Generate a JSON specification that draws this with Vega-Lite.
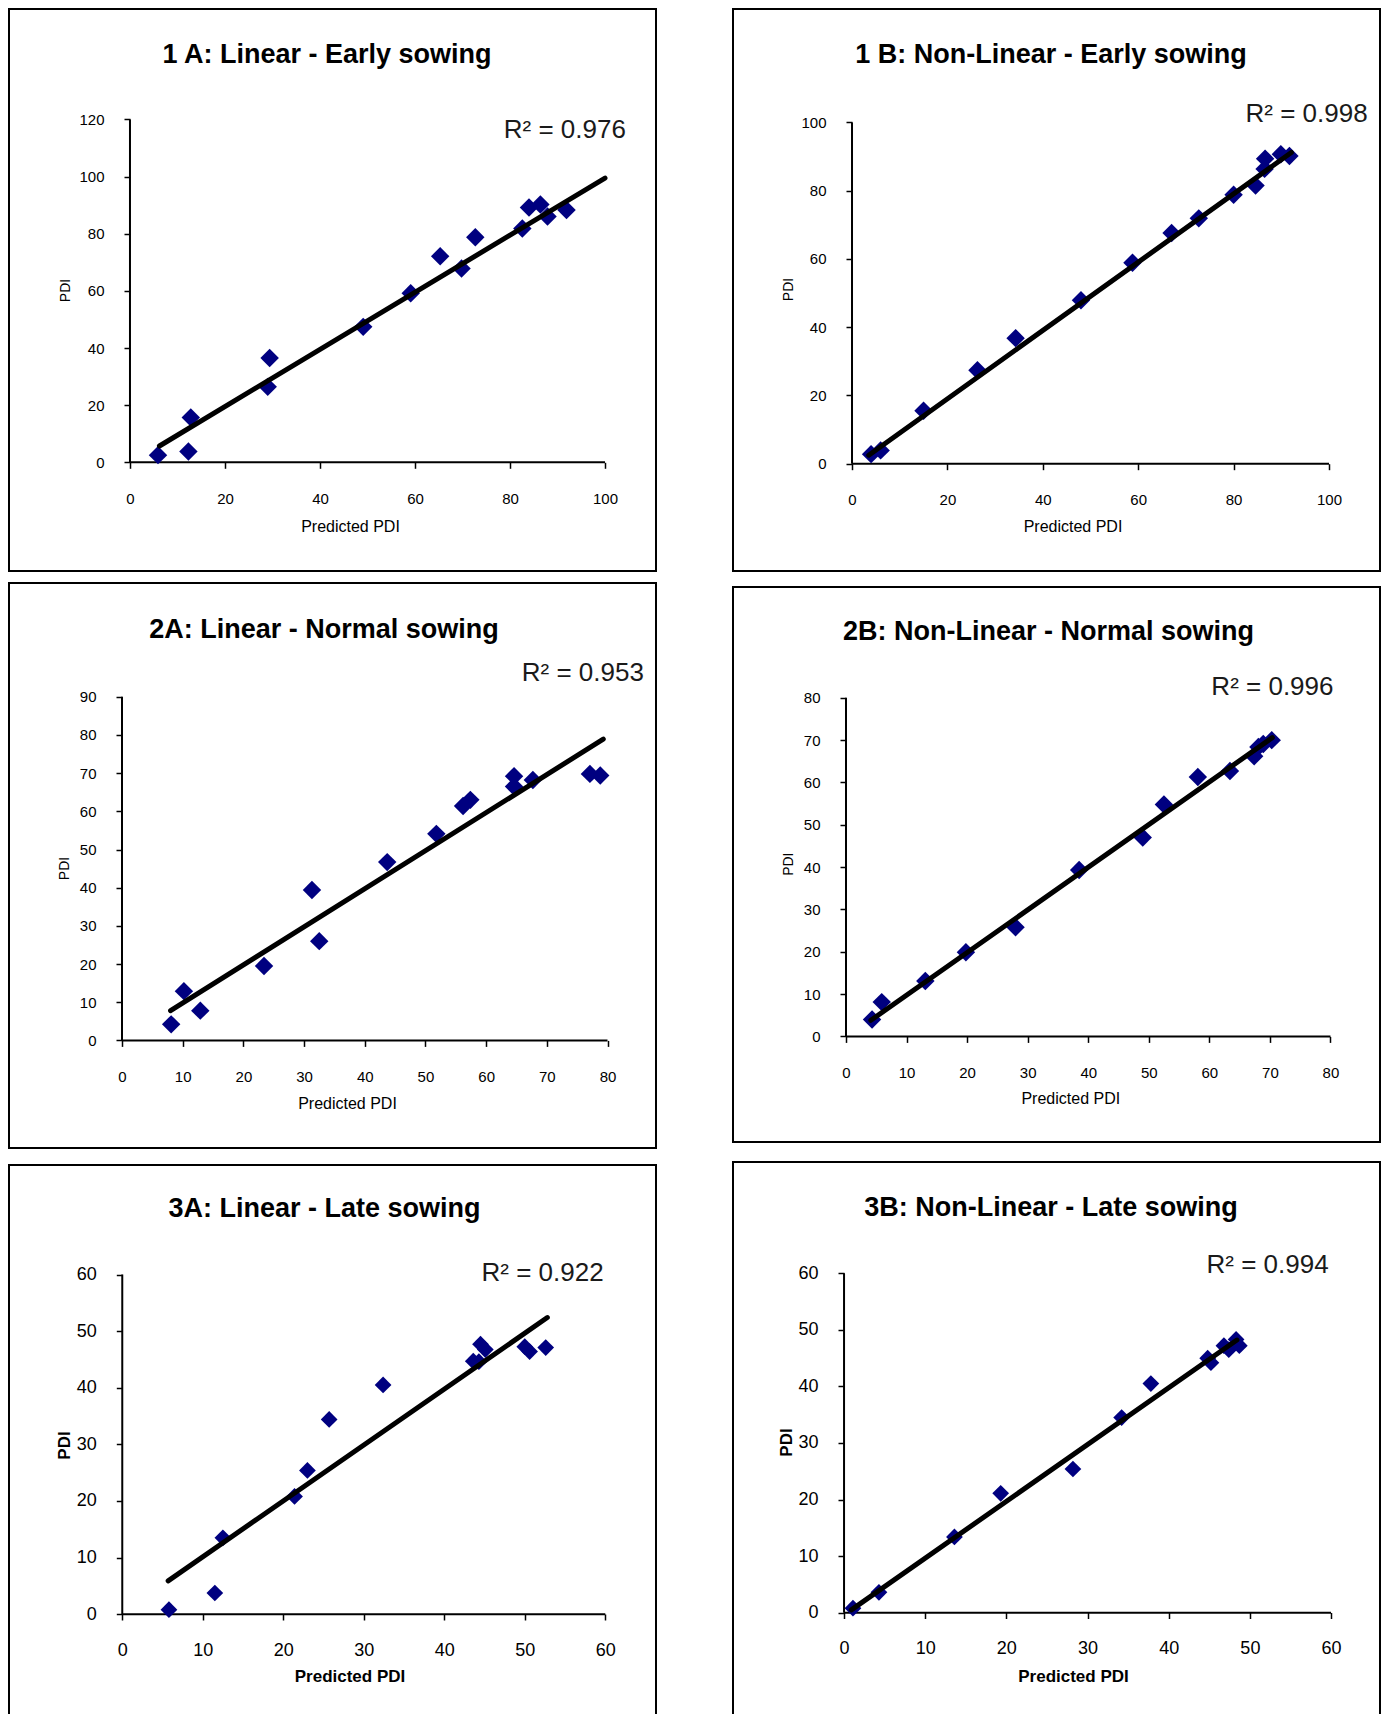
{
  "$schema": "https://vega.github.io/schema/vega-lite/v6.json",
  "background": "white",
  "padding": {"left": 8, "top": 8, "right": 0, "bottom": 0},
  "datasets": {
    "p1a": [{"predicted":5.9,"pdi":2.5},{"predicted":12.3,"pdi":3.8},{"predicted":12.8,"pdi":15.7},{"predicted":29.4,"pdi":36.5},{"predicted":29.0,"pdi":26.4},{"predicted":49.1,"pdi":47.4},{"predicted":59.1,"pdi":59.2},{"predicted":65.3,"pdi":72.1},{"predicted":69.8,"pdi":67.8},{"predicted":72.7,"pdi":78.8},{"predicted":82.6,"pdi":81.8},{"predicted":84.0,"pdi":89.2},{"predicted":86.4,"pdi":90.2},{"predicted":87.9,"pdi":86.0},{"predicted":91.9,"pdi":88.3}],
    "f1a": [{"predicted":6.2,"pdi":5.7},{"predicted":100,"pdi":99.5}],
    "p1b": [{"predicted":4.0,"pdi":2.8},{"predicted":6.0,"pdi":3.9},{"predicted":15.0,"pdi":15.5},{"predicted":26.3,"pdi":27.4},{"predicted":34.3,"pdi":36.8},{"predicted":48.0,"pdi":47.9},{"predicted":58.8,"pdi":58.9},{"predicted":67.0,"pdi":67.6},{"predicted":72.7,"pdi":71.9},{"predicted":80.0,"pdi":78.8},{"predicted":84.6,"pdi":81.5},{"predicted":86.6,"pdi":89.4},{"predicted":86.5,"pdi":86.4},{"predicted":89.9,"pdi":90.7},{"predicted":91.7,"pdi":90.2}],
    "f1b": [{"predicted":3.5,"pdi":2.5},{"predicted":92.1,"pdi":91.2}],
    "p2a": [{"predicted":8.1,"pdi":4.2},{"predicted":10.2,"pdi":12.9},{"predicted":12.9,"pdi":7.8},{"predicted":23.4,"pdi":19.5},{"predicted":31.3,"pdi":39.4},{"predicted":32.5,"pdi":26.0},{"predicted":43.7,"pdi":46.7},{"predicted":51.8,"pdi":54.1},{"predicted":56.2,"pdi":61.4},{"predicted":57.4,"pdi":63.0},{"predicted":64.6,"pdi":69.2},{"predicted":64.6,"pdi":66.5},{"predicted":67.7,"pdi":68.2},{"predicted":77.1,"pdi":69.8},{"predicted":78.8,"pdi":69.4}],
    "f2a": [{"predicted":8.0,"pdi":7.8},{"predicted":79.3,"pdi":78.9}],
    "p2b": [{"predicted":4.3,"pdi":4.0},{"predicted":5.9,"pdi":8.1},{"predicted":13.1,"pdi":13.1},{"predicted":19.8,"pdi":19.9},{"predicted":28.0,"pdi":25.8},{"predicted":38.5,"pdi":39.3},{"predicted":49.0,"pdi":47.0},{"predicted":52.5,"pdi":54.8},{"predicted":58.1,"pdi":61.3},{"predicted":63.4,"pdi":62.7},{"predicted":67.4,"pdi":66.2},{"predicted":68.1,"pdi":68.4},{"predicted":68.9,"pdi":69.1},{"predicted":70.3,"pdi":70.0}],
    "f2b": [{"predicted":4.1,"pdi":3.8},{"predicted":70.4,"pdi":70.6}],
    "p3a": [{"predicted":5.8,"pdi":0.8},{"predicted":11.5,"pdi":3.75},{"predicted":12.5,"pdi":13.5},{"predicted":21.4,"pdi":20.8},{"predicted":23.0,"pdi":25.4},{"predicted":25.7,"pdi":34.4},{"predicted":32.4,"pdi":40.5},{"predicted":43.6,"pdi":44.7},{"predicted":44.3,"pdi":44.6},{"predicted":44.5,"pdi":47.7},{"predicted":45.1,"pdi":46.75},{"predicted":50.0,"pdi":47.25},{"predicted":50.6,"pdi":46.4},{"predicted":52.6,"pdi":47.1}],
    "f3a": [{"predicted":5.7,"pdi":5.9},{"predicted":52.8,"pdi":52.4}],
    "p3b": [{"predicted":1.1,"pdi":0.8},{"predicted":4.3,"pdi":3.6},{"predicted":13.6,"pdi":13.4},{"predicted":19.3,"pdi":21.1},{"predicted":28.2,"pdi":25.4},{"predicted":34.2,"pdi":34.5},{"predicted":37.8,"pdi":40.5},{"predicted":44.8,"pdi":45.0},{"predicted":45.2,"pdi":44.2},{"predicted":46.8,"pdi":47.2},{"predicted":47.4,"pdi":46.5},{"predicted":48.3,"pdi":48.3},{"predicted":48.7,"pdi":47.2}],
    "f3b": [{"predicted":0.9,"pdi":0.5},{"predicted":48.4,"pdi":48.2}]
  },
  "hconcat": [
    {
      "spacing": 10,
      "vconcat": [
        {
          "width": 647, "height": 562,
          "title": {"text": "1 A: Linear - Early sowing", "offset": -59.5, "dx": -5.5},
          "layer": [
            {"data": {"values": [{}]}, "mark": {"type": "rule", "color": "black", "strokeWidth": 2}, "encoding": {"x": {"datum": 0}, "x2": {"datum": 100}, "y": {"datum": 0}}},
            {"data": {"values": [{}]}, "mark": {"type": "rule", "color": "black", "strokeWidth": 2}, "encoding": {"x": {"datum": 0}, "y": {"datum": 0}, "y2": {"datum": 120}}},
            {"data": {"name": "p1a"}, "mark": {"type": "point", "shape": "diamond", "filled": true, "color": "#000080", "size": 340, "opacity": 1},
              "encoding": {
                "x": {"field": "predicted", "type": "quantitative", "scale": {"domain": [-25.47, 110.74], "nice": false, "zero": false},
                  "axis": {"title": "Predicted PDI", "values": [0,20,40,60,80,100], "offset": -108.7, "titleX": 341, "titleY": 63.7}},
                "y": {"field": "pdi", "type": "quantitative", "scale": {"domain": [-38.05, 158.66], "nice": false, "zero": false},
                  "axis": {"title": "PDI", "values": [0,20,40,60,80,100,120], "offset": -121, "titleX": -64.4, "titleY": 281, "titleFontSize": 14}}
              }},
            {"data": {"name": "f1a"}, "mark": {"type": "line", "color": "black", "strokeWidth": 5, "strokeCap": "round"},
              "encoding": {"x": {"field": "predicted", "type": "quantitative"}, "y": {"field": "pdi", "type": "quantitative"}}},
            {"data": {"values": [{"label": "R² = 0.976"}]}, "mark": {"type": "text", "align": "right", "baseline": "middle", "fontSize": 26, "font": "Liberation Sans", "color": "#1a1a1a"},
              "encoding": {"x": {"datum": 104.4}, "y": {"datum": 116.3}, "text": {"field": "label"}}}
          ]
        },
        {
          "spacing": 15,
          "vconcat": [
            {
              "width": 647, "height": 565,
              "title": {"text": "2A: Linear - Normal sowing", "offset": -60.9, "dx": -8.5},
              "layer": [
                {"data": {"values": [{}]}, "mark": {"type": "rule", "color": "black", "strokeWidth": 2}, "encoding": {"x": {"datum": 0}, "x2": {"datum": 80}, "y": {"datum": 0}}},
                {"data": {"values": [{}]}, "mark": {"type": "rule", "color": "black", "strokeWidth": 2}, "encoding": {"x": {"datum": 0}, "y": {"datum": 0}, "y2": {"datum": 90}}},
                {"data": {"name": "p2a"}, "mark": {"type": "point", "shape": "diamond", "filled": true, "color": "#000080", "size": 340, "opacity": 1},
                  "encoding": {
                    "x": {"field": "predicted", "type": "quantitative", "scale": {"domain": [-18.62, 87.99], "nice": false, "zero": false},
                      "axis": {"title": "Predicted PDI", "values": [0,10,20,30,40,50,60,70,80], "offset": -107.6, "titleX": 338, "titleY": 62.6}},
                    "y": {"field": "pdi", "type": "quantitative", "scale": {"domain": [-28.18, 119.8], "nice": false, "zero": false},
                      "axis": {"title": "PDI", "values": [0,10,20,30,40,50,60,70,80,90], "offset": -113, "titleX": -57.5, "titleY": 285, "titleFontSize": 14}}
                  }},
                {"data": {"name": "f2a"}, "mark": {"type": "line", "color": "black", "strokeWidth": 5, "strokeCap": "round"},
                  "encoding": {"x": {"field": "predicted", "type": "quantitative"}, "y": {"field": "pdi", "type": "quantitative"}}},
                {"data": {"values": [{"label": "R² = 0.953"}]}, "mark": {"type": "text", "align": "right", "baseline": "middle", "fontSize": 26, "font": "Liberation Sans", "color": "#1a1a1a"},
                  "encoding": {"x": {"datum": 86.0}, "y": {"datum": 96.1}, "text": {"field": "label"}}}
              ]
            },
            {
              "width": 647, "height": 558,
              "title": {"text": "3A: Linear - Late sowing", "offset": -58.2, "dx": -8},
              "layer": [
                {"data": {"values": [{}]}, "mark": {"type": "rule", "color": "black", "strokeWidth": 2}, "encoding": {"x": {"datum": 0}, "x2": {"datum": 60}, "y": {"datum": 0}}},
                {"data": {"values": [{}]}, "mark": {"type": "rule", "color": "black", "strokeWidth": 2}, "encoding": {"x": {"datum": 0}, "y": {"datum": 0}, "y2": {"datum": 60}}},
                {"data": {"name": "p3a"}, "mark": {"type": "point", "shape": "diamond", "filled": true, "color": "#000080", "size": 280, "opacity": 1},
                  "encoding": {
                    "x": {"field": "predicted", "type": "quantitative", "scale": {"domain": [-14.07, 66.3], "nice": false, "zero": false},
                      "axis": {"title": "Predicted PDI", "values": [0,10,20,30,40,50,60], "offset": -109, "titleX": 340.5, "titleY": 62, "labelFontSize": 18, "titleFontSize": 17, "titleFontWeight": "bold"}},
                    "y": {"field": "pdi", "type": "quantitative", "scale": {"domain": [-19.21, 79.34], "nice": false, "zero": false},
                      "axis": {"title": "PDI", "values": [0,10,20,30,40,50,60], "offset": -113.3, "titleX": -57.8, "titleY": 280, "labelFontSize": 18, "titleFontSize": 17, "titleFontWeight": "bold"}}
                  }},
                {"data": {"name": "f3a"}, "mark": {"type": "line", "color": "black", "strokeWidth": 5, "strokeCap": "round"},
                  "encoding": {"x": {"field": "predicted", "type": "quantitative"}, "y": {"field": "pdi", "type": "quantitative"}}},
                {"data": {"values": [{"label": "R² = 0.922"}]}, "mark": {"type": "text", "align": "right", "baseline": "middle", "fontSize": 26, "font": "Liberation Sans", "color": "#1a1a1a"},
                  "encoding": {"x": {"datum": 59.8}, "y": {"datum": 60.2}, "text": {"field": "label"}}}
              ]
            }
          ]
        }
      ]
    },
    {
      "spacing": 14,
      "vconcat": [
        {
          "width": 647, "height": 562,
          "title": {"text": "1 B: Non-Linear - Early sowing", "offset": -59.6, "dx": -5.5},
          "layer": [
            {"data": {"values": [{}]}, "mark": {"type": "rule", "color": "black", "strokeWidth": 2}, "encoding": {"x": {"datum": 0}, "x2": {"datum": 100}, "y": {"datum": 0}}},
            {"data": {"values": [{}]}, "mark": {"type": "rule", "color": "black", "strokeWidth": 2}, "encoding": {"x": {"datum": 0}, "y": {"datum": 0}, "y2": {"datum": 100}}},
            {"data": {"name": "p1b"}, "mark": {"type": "point", "shape": "diamond", "filled": true, "color": "#000080", "size": 340, "opacity": 1},
              "encoding": {
                "x": {"field": "predicted", "type": "quantitative", "scale": {"domain": [-24.95, 110.69], "nice": false, "zero": false},
                  "axis": {"title": "Predicted PDI", "values": [0,20,40,60,80,100], "offset": -107.3, "titleX": 339.5, "titleY": 62.3}},
                "y": {"field": "pdi", "type": "quantitative", "scale": {"domain": [-31.45, 133.26], "nice": false, "zero": false},
                  "axis": {"title": "PDI", "values": [0,20,40,60,80,100], "offset": -119, "titleX": -64, "titleY": 280, "titleFontSize": 14}}
              }},
            {"data": {"name": "f1b"}, "mark": {"type": "line", "color": "black", "strokeWidth": 5, "strokeCap": "round"},
              "encoding": {"x": {"field": "predicted", "type": "quantitative"}, "y": {"field": "pdi", "type": "quantitative"}}},
            {"data": {"values": [{"label": "R² = 0.998"}]}, "mark": {"type": "text", "align": "right", "baseline": "middle", "fontSize": 26, "font": "Liberation Sans", "color": "#1a1a1a"},
              "encoding": {"x": {"datum": 108.1}, "y": {"datum": 102.5}, "text": {"field": "label"}}}
          ]
        },
        {
          "spacing": 18,
          "vconcat": [
            {
              "width": 647, "height": 555,
              "title": {"text": "2B: Non-Linear - Normal sowing", "offset": -59.1, "dx": -8},
              "layer": [
                {"data": {"values": [{}]}, "mark": {"type": "rule", "color": "black", "strokeWidth": 2}, "encoding": {"x": {"datum": 0}, "x2": {"datum": 80}, "y": {"datum": 0}}},
                {"data": {"values": [{}]}, "mark": {"type": "rule", "color": "black", "strokeWidth": 2}, "encoding": {"x": {"datum": 0}, "y": {"datum": 0}, "y2": {"datum": 80}}},
                {"data": {"name": "p2b"}, "mark": {"type": "point", "shape": "diamond", "filled": true, "color": "#000080", "size": 340, "opacity": 1},
                  "encoding": {
                    "x": {"field": "predicted", "type": "quantitative", "scale": {"domain": [-18.66, 88.18], "nice": false, "zero": false},
                      "axis": {"title": "Predicted PDI", "values": [0,10,20,30,40,50,60,70,80], "offset": -105.6, "titleX": 337.3, "titleY": 62.4}},
                    "y": {"field": "pdi", "type": "quantitative", "scale": {"domain": [-24.95, 106.18], "nice": false, "zero": false},
                      "axis": {"title": "PDI", "values": [0,10,20,30,40,50,60,70,80], "offset": -113, "titleX": -58, "titleY": 276.7, "titleFontSize": 14}}
                  }},
                {"data": {"name": "f2b"}, "mark": {"type": "line", "color": "black", "strokeWidth": 5, "strokeCap": "round"},
                  "encoding": {"x": {"field": "predicted", "type": "quantitative"}, "y": {"field": "pdi", "type": "quantitative"}}},
                {"data": {"values": [{"label": "R² = 0.996"}]}, "mark": {"type": "text", "align": "right", "baseline": "middle", "fontSize": 26, "font": "Liberation Sans", "color": "#1a1a1a"},
                  "encoding": {"x": {"datum": 80.5}, "y": {"datum": 82.6}, "text": {"field": "label"}}}
              ]
            },
            {
              "width": 647, "height": 561,
              "title": {"text": "3B: Non-Linear - Late sowing", "offset": -60.1, "dx": -5.5},
              "layer": [
                {"data": {"values": [{}]}, "mark": {"type": "rule", "color": "black", "strokeWidth": 2}, "encoding": {"x": {"datum": 0}, "x2": {"datum": 60}, "y": {"datum": 0}}},
                {"data": {"values": [{}]}, "mark": {"type": "rule", "color": "black", "strokeWidth": 2}, "encoding": {"x": {"datum": 0}, "y": {"datum": 0}, "y2": {"datum": 60}}},
                {"data": {"name": "p3b"}, "mark": {"type": "point", "shape": "diamond", "filled": true, "color": "#000080", "size": 280, "opacity": 1},
                  "encoding": {
                    "x": {"field": "predicted", "type": "quantitative", "scale": {"domain": [-13.68, 66.03], "nice": false, "zero": false},
                      "axis": {"title": "Predicted PDI", "values": [0,10,20,30,40,50,60], "offset": -110.5, "titleX": 340, "titleY": 63.5, "labelFontSize": 18, "titleFontSize": 17, "titleFontWeight": "bold"}},
                    "y": {"field": "pdi", "type": "quantitative", "scale": {"domain": [-19.5, 79.67], "nice": false, "zero": false},
                      "axis": {"title": "PDI", "values": [0,10,20,30,40,50,60], "offset": -111, "titleX": -58, "titleY": 280, "labelFontSize": 18, "titleFontSize": 17, "titleFontWeight": "bold"}}
                  }},
                {"data": {"name": "f3b"}, "mark": {"type": "line", "color": "black", "strokeWidth": 5, "strokeCap": "round"},
                  "encoding": {"x": {"field": "predicted", "type": "quantitative"}, "y": {"field": "pdi", "type": "quantitative"}}},
                {"data": {"values": [{"label": "R² = 0.994"}]}, "mark": {"type": "text", "align": "right", "baseline": "middle", "fontSize": 26, "font": "Liberation Sans", "color": "#1a1a1a"},
                  "encoding": {"x": {"datum": 59.7}, "y": {"datum": 61.4}, "text": {"field": "label"}}}
              ]
            }
          ]
        }
      ]
    }
  ],
  "spacing": 75,
  "config": {
    "view": {"stroke": "black", "strokeWidth": 2},
    "font": "Liberation Sans",
    "title": {"fontSize": 27, "font": "Liberation Sans", "fontWeight": "bold", "color": "black", "baseline": "middle", "anchor": "middle"},
    "axis": {"domain": false, "grid": false, "ticks": true, "tickSize": 6, "tickColor": "black", "tickWidth": 1.5, "labelFont": "Liberation Sans", "labelFontSize": 15, "labelColor": "black", "titleFont": "Liberation Sans", "titleFontSize": 16, "titleFontWeight": "normal", "titleColor": "black", "titleAlign": "center", "titleBaseline": "middle", "labelFlush": false, "labelOverlap": false},
    "axisX": {"labelBaseline": "middle", "labelPadding": 30},
    "axisY": {"labelPadding": 20, "titleAngle": 270}
  }
}
